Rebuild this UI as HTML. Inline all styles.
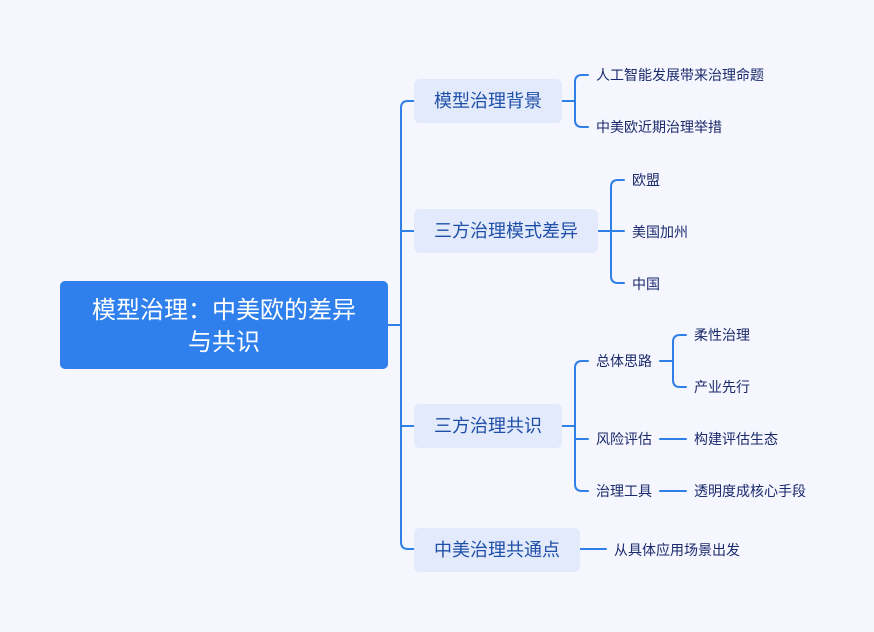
<!DOCTYPE html>
<html><head><meta charset="utf-8"><style>
html,body{margin:0;padding:0;background:#f5f6fe;}
svg{display:block;font-family:"Liberation Sans","Noto Sans CJK SC",sans-serif;}
</style></head><body>
<svg width="874" height="632" viewBox="0 0 874 632">
<rect width="874" height="632" fill="#f5f6fe"/>
<g fill="none" stroke="#2f7fe8" stroke-width="2" stroke-linecap="round">
<path d="M388 325 H401"/>
<path d="M414 101 H408 Q401 101 401 108 V542 Q401 549 408 549 H414"/>
<path d="M401 231 H414" />
<path d="M401 426 H414"/>
<path d="M562 101 H575 M588 75 H582 Q575 75 575 82 V120 Q575 127 582 127 H588"/>
<path d="M598 231 H611 M624 180 H618 Q611 180 611 187 V276 Q611 283 618 283 H624 M611 231 H624"/>
<path d="M562 426 H575 M588 361 H582 Q575 361 575 368 V484 Q575 491 582 491 H588 M575 439 H588"/>
<path d="M660 361 H673 M686 335 H680 Q673 335 673 342 V380 Q673 387 680 387 H686"/>
<path d="M660 439 H686 M660 491 H686"/>
<path d="M580 549 H606"/>
</g>
<rect x="60" y="281" width="328" height="88" rx="5" fill="#2f80ed"/>
<text x="224" y="318" font-size="24" fill="#fff" text-anchor="middle">模型治理：中美欧的差异</text>
<text x="224" y="350" font-size="24" fill="#fff" text-anchor="middle">与共识</text>
<g fill="#e2eafc">
<rect x="414" y="79" width="148" height="44" rx="6"/>
<rect x="414" y="209" width="184" height="44" rx="6"/>
<rect x="414" y="404" width="148" height="44" rx="6"/>
<rect x="414" y="528" width="166" height="44" rx="6"/>
</g>
<g font-size="18" fill="#1f4fa8" text-anchor="middle">
<text x="488" y="107">模型治理背景</text>
<text x="506" y="237">三方治理模式差异</text>
<text x="488" y="432">三方治理共识</text>
<text x="497" y="556">中美治理共通点</text>
</g>
<g font-size="14" fill="#1a2a6c">
<text x="596" y="80">人工智能发展带来治理命题</text>
<text x="596" y="132">中美欧近期治理举措</text>
<text x="632" y="185">欧盟</text>
<text x="632" y="237">美国加州</text>
<text x="632" y="289">中国</text>
<text x="596" y="366">总体思路</text>
<text x="596" y="444">风险评估</text>
<text x="596" y="496">治理工具</text>
<text x="694" y="340">柔性治理</text>
<text x="694" y="392">产业先行</text>
<text x="694" y="444">构建评估生态</text>
<text x="694" y="496">透明度成核心手段</text>
<text x="614" y="555">从具体应用场景出发</text>
</g>
</svg>
</body></html>
